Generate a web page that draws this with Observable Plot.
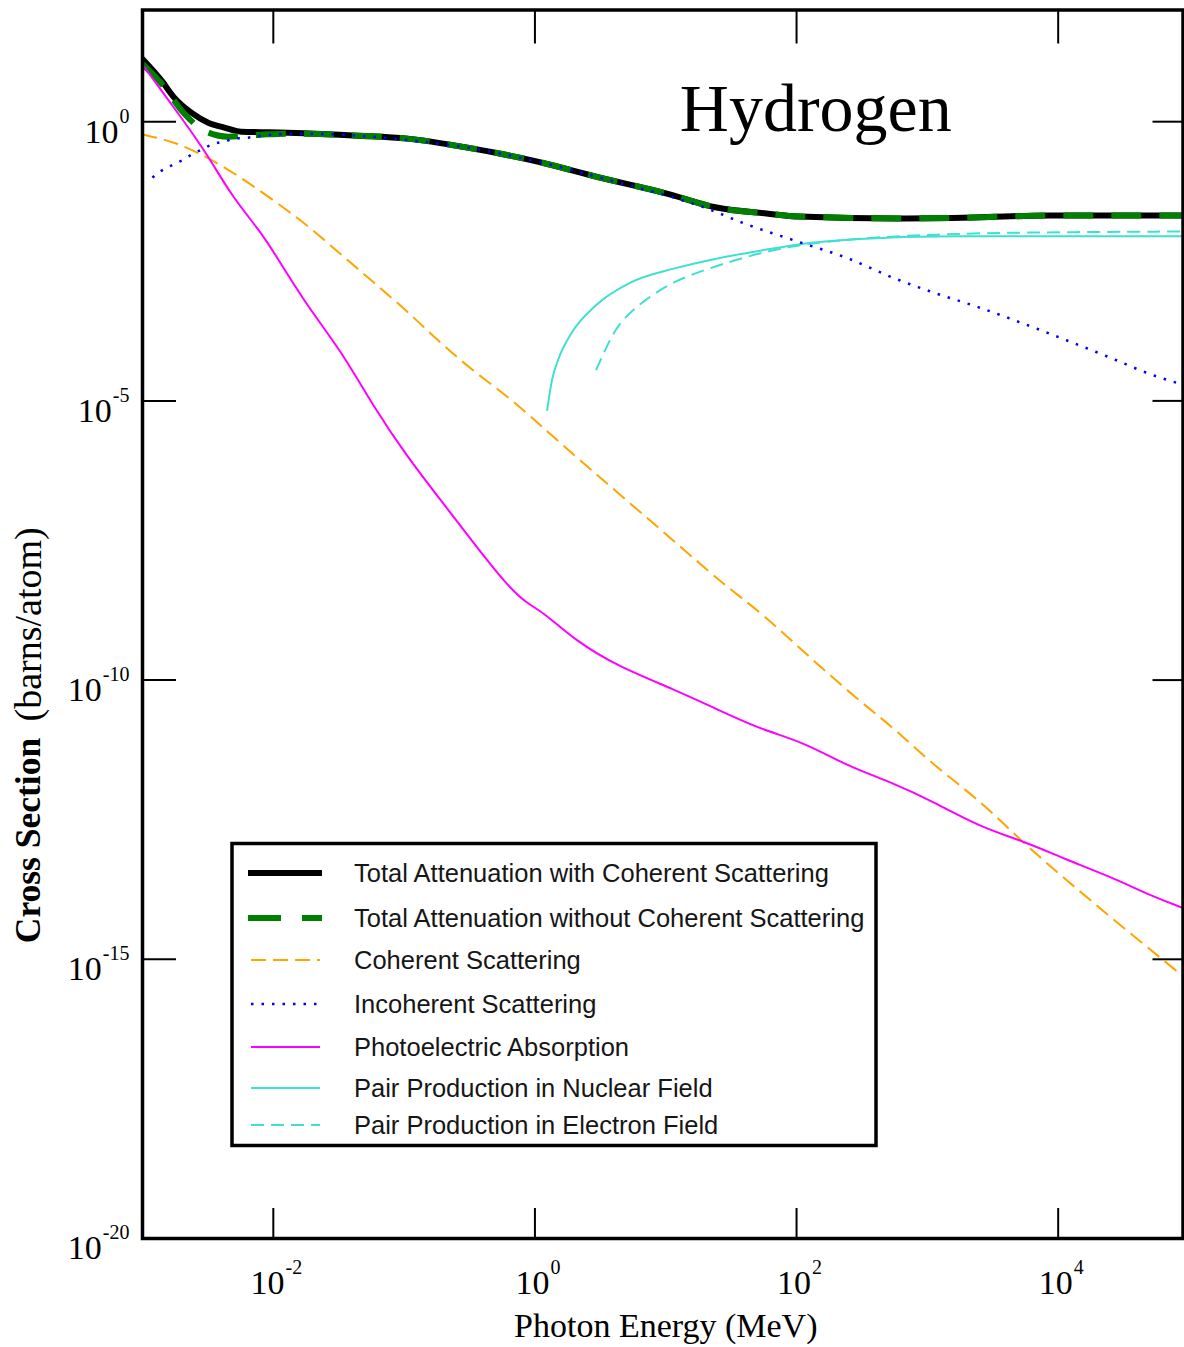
<!DOCTYPE html>
<html>
<head>
<meta charset="utf-8">
<script src="https://cdn.jsdelivr.net/npm/d3@7"></script>
<script src="https://cdn.jsdelivr.net/npm/@observablehq/plot@0.6"></script>
<style>
  html, body { margin: 0; padding: 0; background: #fff; }
  #chart svg { display: block; }
</style>
</head>
<body>
<div id="chart"></div>
<script>
// Photon interaction cross sections of hydrogen.
// Energies in MeV, cross sections in barns/atom.

const totalCohEnergy = [1e-3, 1.40e-3, 1.75e-3, 2.36e-3, 3.18e-3, 4.22e-3, 5.68e-3, 1.29e-2, 4.43e-2, 0.106, 0.305, 0.970, 3.14, 10.2, 24.5, 58.9, 105, 607, 2260, 8430, 9e4];
const totalCohSigma  = [13.2, 5.41, 2.69, 1.45, 0.959, 0.782, 0.662, 0.635, 0.562, 0.497, 0.343, 0.201, 0.0998, 0.0516, 0.0290, 0.0227, 0.0200, 0.0185, 0.0192, 0.0209, 0.0209];

const totalNoCohEnergy = [1e-3, 1.40e-3, 2.09e-3, 2.96e-3, 4.52e-3, 8.07e-3, 1.29e-2, 4.43e-2, 0.106, 0.305, 0.970, 3.14, 10.2, 24.5, 58.9, 105, 607, 2260, 8430, 9e4];
const totalNoCohSigma  = [10.8, 4.78, 1.39, 0.690, 0.540, 0.586, 0.611, 0.562, 0.497, 0.343, 0.201, 0.0998, 0.0516, 0.0290, 0.0227, 0.0200, 0.0185, 0.0192, 0.0209, 0.0209];

const coherentEnergy = [1e-3, 1.75e-3, 3.18e-3, 5.68e-3, 1.01e-2, 1.84e-2, 3.28e-2, 5.86e-2, 0.106, 0.190, 0.339, 0.615, 1.10, 1.556, 16.9, 29.2, 53.8, 115, 311, 537, 1140, 2470, 5350, 11350, 24550, 76900, 9e4];
const coherentSigma  = [0.590, 0.440, 0.228, 0.0998, 0.0387, 0.0138, 0.00420, 0.00132, 4.02e-4, 1.08e-4, 3.40e-5, 1.22e-5, 3.69e-6, 1.76e-6, 1.43e-8, 4.69e-9, 1.61e-9, 3.10e-10, 3.96e-11, 1.48e-11, 2.84e-12, 7.31e-13, 1.24e-13, 2.72e-14, 5.93e-15, 6.70e-16, 5.0e-16];

const incoherentEnergy = [1.19e-3, 1.40e-3, 1.66e-3, 2.05e-3, 2.45e-3, 2.92e-3, 3.54e-3, 4.22e-3, 5.02e-3, 6.43e-3, 8.07e-3, 1.63e-2, 4.43e-2, 9.91e-2, 0.305, 0.970, 3.14, 4.62, 10.2, 19.8, 40.0, 107, 248, 537, 1160, 2470, 5350, 11560, 24550, 53200, 82400];
const incoherentSigma  = [0.0998, 0.133, 0.164, 0.209, 0.268, 0.329, 0.405, 0.440, 0.497, 0.518, 0.562, 0.611, 0.562, 0.476, 0.343, 0.201, 0.0998, 0.0780, 0.0475, 0.0290, 0.0150, 0.00687, 0.00356, 0.00163, 8.43e-4, 4.74e-4, 2.45e-4, 1.22e-4, 6.05e-5, 2.88e-5, 2.07e-5];

const photoEnergy = [1e-3, 1.40e-3, 1.98e-3, 3.18e-3, 4.76e-3, 8.07e-3, 1.01e-2, 1.84e-2, 3.28e-2, 5.86e-2, 0.106, 0.190, 0.339, 0.615, 0.873, 1.175, 1.99, 4.31, 11.7, 24.9, 53.8, 115, 248, 537, 1140, 2470, 5730, 11350, 24550, 52240, 9e4];
const photoSigma  = [10.5, 3.58, 1.18, 0.247, 0.0475, 0.0104, 0.00457, 4.74e-4, 8.07e-5, 7.73e-6, 9.89e-7, 1.68e-7, 2.87e-8, 4.89e-9, 2.33e-9, 1.61e-9, 5.30e-10, 1.74e-10, 6.76e-11, 2.97e-11, 1.30e-11, 7.64e-12, 2.84e-12, 1.47e-12, 6.46e-13, 2.40e-13, 1.24e-13, 6.19e-14, 3.08e-14, 1.35e-14, 8.3e-15];

const pairNuclearEnergy = [1.24, 1.35, 1.53, 1.92, 2.93, 5.41, 11.7, 24.9, 53.8, 117, 365, 1160, 5350, 9e4];
const pairNuclearSigma  = [6.84e-6, 2.35e-5, 6.05e-5, 1.69e-4, 5.14e-4, 1.32e-3, 2.36e-3, 3.56e-3, 4.94e-3, 6.59e-3, 8.11e-3, 8.81e-3, 8.9e-3, 8.9e-3];

const pairElectronEnergy = [2.93, 3.43, 4.31, 6.79, 11.7, 24.9, 53.8, 117, 365, 1160, 4260, 9e4];
const pairElectronSigma  = [3.55e-5, 8.07e-5, 2.45e-4, 6.32e-4, 1.44e-3, 2.67e-3, 4.56e-3, 6.59e-3, 8.45e-3, 9.55e-3, 1.04e-2, 1.08e-2];

const xTickValues = [1e-2, 1, 1e2, 1e4];
const yTickValues = [1, 1e-5, 1e-10, 1e-15];
const yLabelValues = [1, 1e-5, 1e-10, 1e-15, 1e-20];

const legendLabels = [
  "Total Attenuation with Coherent Scattering",
  "Total Attenuation without Coherent Scattering",
  "Coherent Scattering",
  "Incoherent Scattering",
  "Photoelectric Absorption",
  "Pair Production in Nuclear Field",
  "Pair Production in Electron Field"
];

// line styles shared by the curves and the legend swatches
const styles = [
  {stroke: "#000000", strokeWidth: 6, dash: null, curve: "monotone-x"},
  {stroke: "#008000", strokeWidth: 6, dash: "30,18", curve: "monotone-x"},
  {stroke: "#FFA500", strokeWidth: 2, dash: "15,7", curve: "basis"},
  {stroke: "#0000FF", strokeWidth: 2.5, dash: "2.5,8", curve: "monotone-x"},
  {stroke: "#FF00FF", strokeWidth: 2, dash: null, curve: "basis"},
  {stroke: "#40E0D0", strokeWidth: 2, dash: null, curve: "monotone-x"},
  {stroke: "#40E0D0", strokeWidth: 2, dash: "13,7", curve: "basis"}
];

const series = [
  [totalCohEnergy, totalCohSigma],
  [totalNoCohEnergy, totalNoCohSigma],
  [coherentEnergy, coherentSigma],
  [incoherentEnergy, incoherentSigma],
  [photoEnergy, photoSigma],
  [pairNuclearEnergy, pairNuclearSigma],
  [pairElectronEnergy, pairElectronSigma]
];

const W = 1184, H = 1347;
const mL = 142, mR = 1.5, mT = 9.5, mB = 109;
const innerW = W - mL - mR, innerH = H - mT - mB;
const serif = "'Liberation Serif', 'Times New Roman', Times, serif";
const sans = "'Liberation Sans', Arial, Helvetica, sans-serif";
const pow10 = d => "10^" + Math.round(Math.log10(d));

function curve(i) {
  const [E, S] = series[i];
  const st = styles[i];
  return Plot.line(E.map((e, k) => ({energy: e, sigma: S[k]})), {
    x: "energy", y: "sigma",
    curve: st.curve,
    clip: true,
    stroke: st.stroke,
    strokeWidth: st.strokeWidth,
    strokeDasharray: st.dash ?? undefined,
    strokeLinecap: st.dash ? "butt" : "round"
  });
}

// draw order: totals underneath, then the components
const drawOrder = [0, 1, 2, 4, 5, 6, 3];

const chart = Plot.plot({
  width: W,
  height: H,
  marginLeft: mL,
  marginRight: mR,
  marginTop: mT,
  marginBottom: mB,
  style: {background: "#fff", color: "#000", fontFamily: serif, overflow: "visible"},
  x: {type: "log", domain: [1e-3, 9e4], axis: null},
  y: {type: "log", domain: [1e-20, 1e2], axis: null},
  marks: [
    ...drawOrder.map(curve),
    // inward major ticks on all four sides
    Plot.ruleX(xTickValues, {x: d => d, insetTop: innerH - 30, stroke: "#000", strokeWidth: 2}),
    Plot.ruleX(xTickValues, {x: d => d, insetBottom: innerH - 34, stroke: "#000", strokeWidth: 2}),
    Plot.ruleY(yTickValues, {y: d => d, insetRight: innerW - 34, stroke: "#000", strokeWidth: 2}),
    Plot.ruleY(yTickValues, {y: d => d, insetLeft: innerW - 30, stroke: "#000", strokeWidth: 2}),
    Plot.frame({stroke: "#000", strokeWidth: 3.5}),
    // tick labels
    Plot.text(xTickValues, {x: d => d, frameAnchor: "bottom", dy: 45, dx: 3, text: pow10, fontSize: 34, textAnchor: "middle", lineAnchor: "middle", fill: "#000"}),
    Plot.text(yLabelValues, {y: d => d, frameAnchor: "left", dx: -13, dy: 10, text: pow10, fontSize: 34, textAnchor: "end", lineAnchor: "middle", fill: "#000"}),
    // titles
    Plot.text(["Hydrogen"], {frameAnchor: "top", dx: 153, dy: 99, fontSize: 68, textAnchor: "middle", lineAnchor: "middle", fill: "#000"}),
    Plot.text(["Photon Energy (MeV)"], {frameAnchor: "bottom", dx: 3, dy: 88, fontSize: 34, textAnchor: "middle", lineAnchor: "middle", fill: "#000"}),
    Plot.text(["Cross Section"], {frameAnchor: "left", dx: -114, dy: 319, rotate: -90, fontSize: 35.5, fontWeight: "bold", textAnchor: "start", lineAnchor: "middle", fill: "#000"}),
    Plot.text(["(barns/atom)"], {frameAnchor: "left", dx: -114, dy: -97, rotate: -90, fontSize: 38, textAnchor: "end", lineAnchor: "middle", fill: "#000"})
  ]
});

// superscript exponents for the power-of-ten labels
chart.querySelectorAll("text").forEach(t => {
  const m = /^10\^(-?\d+)$/.exec(t.textContent);
  if (!m) return;
  t.textContent = "10";
  const sup = document.createElementNS("http://www.w3.org/2000/svg", "tspan");
  sup.setAttribute("font-size", 20);
  sup.setAttribute("dy", -20);
  sup.setAttribute("dx", 1);
  sup.textContent = m[1];
  t.appendChild(sup);
});

// legend box inside the plot area
const svg = d3.select(chart);
const lg = svg.append("g").attr("class", "legend").attr("text-anchor", "start");
const box = {x: 232, y: 843.5, w: 644, h: 302};
const rowY = [873, 918, 960, 1004, 1047, 1088, 1125];
lg.append("rect")
  .attr("x", box.x).attr("y", box.y).attr("width", box.w).attr("height", box.h)
  .attr("fill", "#fff").attr("stroke", "#000").attr("stroke-width", 3.5);
legendLabels.forEach((label, i) => {
  const st = styles[i];
  const thick = st.strokeWidth > 4;
  const x1 = thick ? 248 : 251, x2 = thick ? 322 : 320;
  lg.append("line")
    .attr("x1", x1).attr("x2", x2).attr("y1", rowY[i]).attr("y2", rowY[i])
    .attr("stroke", st.stroke).attr("stroke-width", st.strokeWidth)
    .attr("stroke-dasharray", i === 1 ? "33,21" : st.dash);
  lg.append("text")
    .attr("x", 354).attr("y", rowY[i] + 9)
    .attr("text-anchor", "start")
    .attr("font-family", sans).attr("font-size", 25.5)
    .attr("fill", "#161616")
    .text(label);
});

document.getElementById("chart").appendChild(chart);
</script>
</body>
</html>
